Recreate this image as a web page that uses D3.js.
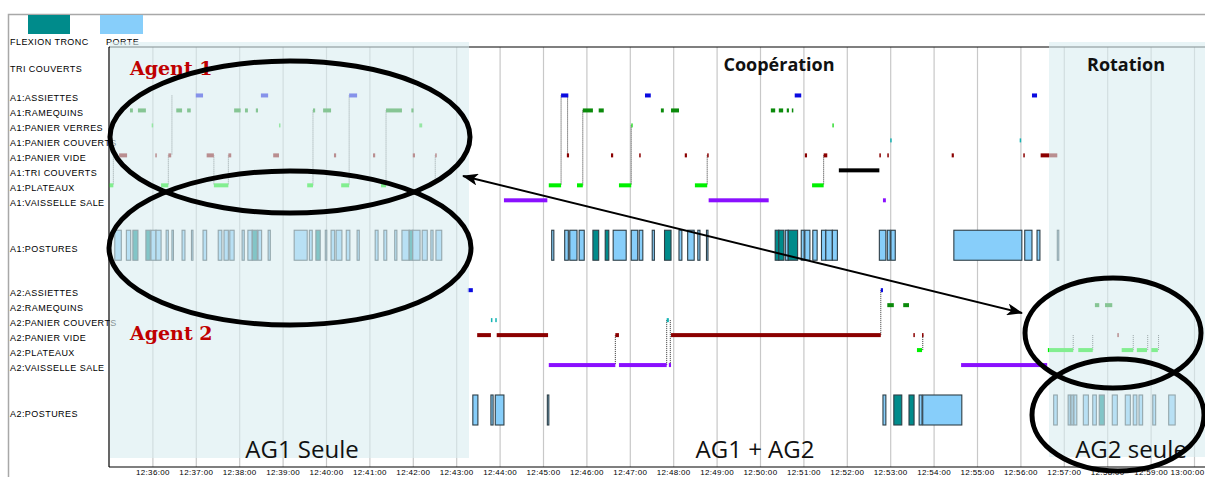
<!DOCTYPE html>
<html>
<head>
<meta charset="utf-8">
<script src="https://cdn.jsdelivr.net/npm/d3@7"></script>
<style>
  body { margin: 0; background: #fff; }
  svg { display: block; }
  .lbl { font-family: "Liberation Sans", Arial, sans-serif; font-size: 9px; letter-spacing: 0.45px; fill: #000; }
</style>
</head>
<body>
<div id="viz"></div>
<script>
// ---- data ----
const legendItems = ['FLEXION TRONC', 'PORTE'];
const rowLabels = [
  'TRI COUVERTS',
  'A1:ASSIETTES', 'A1:RAMEQUINS', 'A1:PANIER VERRES', 'A1:PANIER COUVERTS',
  'A1:PANIER VIDE', 'A1:TRI COUVERTS', 'A1:PLATEAUX', 'A1:VAISSELLE SALE',
  'A1:POSTURES',
  'A2:ASSIETTES', 'A2:RAMEQUINS', 'A2:PANIER COUVERTS', 'A2:PANIER VIDE',
  'A2:PLATEAUX', 'A2:VAISSELLE SALE',
  'A2:POSTURES'
];
const tickLabels = [
  '12:36:00', '12:37:00', '12:38:00', '12:39:00', '12:40:00', '12:41:00',
  '12:42:00', '12:43:00', '12:44:00', '12:45:00', '12:46:00', '12:47:00',
  '12:48:00', '12:49:00', '12:50:00', '12:51:00', '12:52:00', '12:53:00',
  '12:54:00', '12:55:00', '12:56:00', '12:57:00', '12:58:00', '12:59:00',
  '13:00:00'
];
const timeDomain = ['12:35:00', '13:00:00'];

// [task, start, end]
const a1Tasks = [
  ['ASSIETTES', '12:37:00', '12:37:10'], ['ASSIETTES', '12:38:30', '12:38:40'],
  ['ASSIETTES', '12:40:32', '12:40:43'], ['ASSIETTES', '12:45:25', '12:45:35'],
  ['ASSIETTES', '12:47:21', '12:47:29'], ['ASSIETTES', '12:50:48', '12:50:57'],
  ['ASSIETTES', '12:56:16', '12:56:23'],
  ['RAMEQUINS', '12:35:29', '12:35:33'], ['RAMEQUINS', '12:35:40', '12:35:51'],
  ['RAMEQUINS', '12:36:33', '12:36:41'], ['RAMEQUINS', '12:36:48', '12:36:53'],
  ['RAMEQUINS', '12:37:53', '12:38:02'], ['RAMEQUINS', '12:38:08', '12:38:12'],
  ['RAMEQUINS', '12:38:23', '12:38:26'], ['RAMEQUINS', '12:39:42', '12:39:45'],
  ['RAMEQUINS', '12:39:56', '12:40:07'], ['RAMEQUINS', '12:41:23', '12:41:45'],
  ['RAMEQUINS', '12:41:58', '12:42:01'], ['RAMEQUINS', '12:45:55', '12:46:09'],
  ['RAMEQUINS', '12:46:17', '12:46:24'], ['RAMEQUINS', '12:47:43', '12:47:47'],
  ['RAMEQUINS', '12:47:57', '12:48:08'], ['RAMEQUINS', '12:50:15', '12:50:21'],
  ['RAMEQUINS', '12:50:26', '12:50:32'], ['RAMEQUINS', '12:50:37', '12:50:40'],
  ['RAMEQUINS', '12:50:44', '12:50:46'],
  ['PANIER VERRES', '12:35:59', '12:36:01'], ['PANIER VERRES', '12:38:55', '12:38:57'],
  ['PANIER VERRES', '12:42:09', '12:42:13'], ['PANIER VERRES', '12:47:02', '12:47:04'],
  ['PANIER VERRES', '12:51:40', '12:51:42'],
  ['PANIER COUVERTS', '12:53:00', '12:53:02'], ['PANIER COUVERTS', '12:55:59', '12:56:01'],
  ['PANIER VIDE', '12:35:14', '12:35:25'], ['PANIER VIDE', '12:36:04', '12:36:06'],
  ['PANIER VIDE', '12:36:22', '12:36:26'], ['PANIER VIDE', '12:37:15', '12:37:25'],
  ['PANIER VIDE', '12:37:45', '12:37:49'], ['PANIER VIDE', '12:38:47', '12:38:55'],
  ['PANIER VIDE', '12:40:11', '12:40:14'], ['PANIER VIDE', '12:41:05', '12:41:08'],
  ['PANIER VIDE', '12:42:00', '12:42:03'], ['PANIER VIDE', '12:42:31', '12:42:33'],
  ['PANIER VIDE', '12:45:33', '12:45:36'], ['PANIER VIDE', '12:46:34', '12:46:37'],
  ['PANIER VIDE', '12:47:13', '12:47:15'], ['PANIER VIDE', '12:48:16', '12:48:19'],
  ['PANIER VIDE', '12:48:47', '12:48:49'], ['PANIER VIDE', '12:51:02', '12:51:05'],
  ['PANIER VIDE', '12:51:28', '12:51:33'], ['PANIER VIDE', '12:52:45', '12:52:47'],
  ['PANIER VIDE', '12:52:56', '12:52:58'], ['PANIER VIDE', '12:54:25', '12:54:28'],
  ['PANIER VIDE', '12:56:04', '12:56:06'], ['PANIER VIDE', '12:56:28', '12:56:51'],
  ['TRI COUVERTS', '12:51:49', '12:52:45'],
  ['PLATEAUX', '12:35:01', '12:35:06'], ['PLATEAUX', '12:36:12', '12:36:22'],
  ['PLATEAUX', '12:37:25', '12:37:45'], ['PLATEAUX', '12:39:34', '12:39:42'],
  ['PLATEAUX', '12:40:21', '12:40:32'], ['PLATEAUX', '12:41:16', '12:41:23'],
  ['PLATEAUX', '12:45:08', '12:45:25'], ['PLATEAUX', '12:45:47', '12:45:55'],
  ['PLATEAUX', '12:46:45', '12:47:02'], ['PLATEAUX', '12:48:30', '12:48:47'],
  ['PLATEAUX', '12:51:12', '12:51:28'],
  ['VAISSELLE SALE', '12:44:06', '12:45:06'], ['VAISSELLE SALE', '12:48:49', '12:50:12'],
  ['VAISSELLE SALE', '12:52:50', '12:52:54']
];

const a2Tasks = [
  ['ASSIETTES', '12:43:16', '12:43:23'], ['ASSIETTES', '12:52:47', '12:52:50'],
  ['RAMEQUINS', '12:52:56', '12:53:05'], ['RAMEQUINS', '12:53:18', '12:53:26'],
  ['RAMEQUINS', '12:57:43', '12:57:49'], ['RAMEQUINS', '12:57:57', '12:58:07'],
  ['PANIER COUVERTS', '12:43:48', '12:43:49'], ['PANIER COUVERTS', '12:43:54', '12:43:55'],
  ['PANIER COUVERTS', '12:47:51', '12:47:54'],
  ['PANIER VIDE', '12:43:29', '12:43:48'], ['PANIER VIDE', '12:43:56', '12:45:07'],
  ['PANIER VIDE', '12:46:40', '12:46:45'], ['PANIER VIDE', '12:47:57', '12:52:47'],
  ['PANIER VIDE', '12:53:32', '12:53:34'], ['PANIER VIDE', '12:53:44', '12:53:45'],
  ['PANIER VIDE', '12:58:14', '12:58:15'],
  ['PLATEAUX', '12:53:37', '12:53:44'], ['PLATEAUX', '12:56:38', '12:57:13'],
  ['PLATEAUX', '12:57:20', '12:57:40'], ['PLATEAUX', '12:58:20', '12:58:36'],
  ['PLATEAUX', '12:58:41', '12:58:55'], ['PLATEAUX', '12:59:01', '12:59:10'],
  ['VAISSELLE SALE', '12:45:08', '12:46:40'], ['VAISSELLE SALE', '12:46:45', '12:47:51'],
  ['VAISSELLE SALE', '12:47:54', '12:47:57'], ['VAISSELLE SALE', '12:54:38', '12:56:37']
];

// [time, from task, to task] dotted transitions
const a1Links = [
  ['12:35:06', 'PANIER VIDE', 'PLATEAUX'], ['12:36:22', 'PANIER VIDE', 'PLATEAUX'],
  ['12:36:27', 'ASSIETTES', 'PANIER VIDE'], ['12:37:25', 'PANIER VIDE', 'PLATEAUX'],
  ['12:37:45', 'PANIER VIDE', 'PLATEAUX'], ['12:39:42', 'RAMEQUINS', 'PLATEAUX'],
  ['12:40:32', 'ASSIETTES', 'PLATEAUX'], ['12:41:23', 'RAMEQUINS', 'PLATEAUX'],
  ['12:42:31', 'PANIER VIDE', 'PLATEAUX'], ['12:45:25', 'ASSIETTES', 'PLATEAUX'],
  ['12:45:34', 'ASSIETTES', 'PANIER VIDE'], ['12:45:55', 'RAMEQUINS', 'PLATEAUX'],
  ['12:47:02', 'PANIER VERRES', 'PLATEAUX'], ['12:48:47', 'PANIER VIDE', 'PLATEAUX'],
  ['12:51:28', 'PANIER VIDE', 'PLATEAUX']
];
const a2Links = [
  ['12:46:40', 'PANIER VIDE', 'VAISSELLE SALE'], ['12:47:51', 'PANIER COUVERTS', 'VAISSELLE SALE'],
  ['12:47:56', 'PANIER COUVERTS', 'VAISSELLE SALE'], ['12:52:47', 'ASSIETTES', 'PANIER VIDE'],
  ['12:53:45', 'PANIER VIDE', 'PLATEAUX'], ['12:57:13', 'PANIER VIDE', 'PLATEAUX'],
  ['12:57:40', 'PANIER VIDE', 'PLATEAUX'], ['12:58:36', 'PANIER VIDE', 'PLATEAUX'],
  ['12:58:56', 'PANIER VIDE', 'PLATEAUX'], ['12:59:11', 'PANIER VIDE', 'PLATEAUX']
];

// [start, end, posture]  P = PORTE, F = FLEXION TRONC
const a1Postures = [
  ['12:35:08', '12:35:17', 'P'], ['12:35:24', '12:35:30', 'P'], ['12:35:33', '12:35:40', 'F'],
  ['12:35:51', '12:35:57', 'F'], ['12:35:58', '12:36:05', 'P'], ['12:36:05', '12:36:12', 'P'],
  ['12:36:19', '12:36:22', 'P'], ['12:36:27', '12:36:28', 'P'], ['12:36:41', '12:36:45', 'P'],
  ['12:36:54', '12:36:55', 'P'], ['12:37:10', '12:37:15', 'P'], ['12:37:31', '12:37:36', 'P'],
  ['12:37:39', '12:37:45', 'P'], ['12:37:47', '12:37:53', 'P'], ['12:38:04', '12:38:07', 'P'],
  ['12:38:12', '12:38:18', 'P'], ['12:38:18', '12:38:25', 'F'], ['12:38:26', '12:38:31', 'P'],
  ['12:38:40', '12:38:43', 'P'], ['12:39:16', '12:39:34', 'P'], ['12:39:37', '12:39:41', 'P'],
  ['12:39:46', '12:39:52', 'F'], ['12:39:59', '12:40:01', 'P'], ['12:40:07', '12:40:12', 'P'],
  ['12:40:14', '12:40:22', 'P'], ['12:40:28', '12:40:33', 'P'], ['12:40:43', '12:40:46', 'P'],
  ['12:41:08', '12:41:12', 'P'], ['12:41:20', '12:41:24', 'P'], ['12:41:35', '12:41:38', 'P'],
  ['12:41:45', '12:41:55', 'P'], ['12:41:55', '12:42:00', 'F'], ['12:42:00', '12:42:10', 'P'],
  ['12:42:13', '12:42:20', 'P'], ['12:42:25', '12:42:28', 'P'], ['12:42:32', '12:42:40', 'P'],
  ['12:45:12', '12:45:15', 'P'], ['12:45:30', '12:45:35', 'P'], ['12:45:37', '12:45:47', 'P'],
  ['12:45:50', '12:45:57', 'P'], ['12:46:09', '12:46:17', 'F'], ['12:46:26', '12:46:31', 'F'],
  ['12:46:37', '12:46:55', 'P'], ['12:47:02', '12:47:11', 'P'], ['12:47:13', '12:47:18', 'P'],
  ['12:47:31', '12:47:34', 'P'], ['12:47:48', '12:47:57', 'F'], ['12:48:08', '12:48:12', 'P'],
  ['12:48:20', '12:48:29', 'P'], ['12:48:34', '12:48:37', 'P'], ['12:48:46', '12:48:48', 'P'],
  ['12:50:21', '12:50:26', 'F'], ['12:50:26', '12:50:33', 'F'], ['12:50:35', '12:50:39', 'P'],
  ['12:50:39', '12:50:52', 'F'], ['12:50:57', '12:51:01', 'P'], ['12:51:02', '12:51:09', 'P'],
  ['12:51:13', '12:51:19', 'P'], ['12:51:25', '12:51:31', 'P'], ['12:51:31', '12:51:40', 'P'],
  ['12:51:40', '12:51:47', 'P'], ['12:52:45', '12:52:54', 'P'], ['12:52:56', '12:53:00', 'P'],
  ['12:53:01', '12:53:07', 'P'], ['12:54:28', '12:56:02', 'P'], ['12:56:06', '12:56:16', 'P'],
  ['12:56:23', '12:56:27', 'P'], ['12:56:51', '12:56:52', 'P']
];
const a2Postures = [
  ['12:43:23', '12:43:30', 'P'], ['12:43:48', '12:43:51', 'P'], ['12:43:54', '12:44:06', 'P'],
  ['12:45:06', '12:45:08', 'P'], ['12:52:50', '12:52:54', 'P'], ['12:53:05', '12:53:16', 'F'],
  ['12:53:26', '12:53:33', 'F'], ['12:53:40', '12:53:44', 'P'], ['12:53:45', '12:54:39', 'P'],
  ['12:56:46', '12:56:51', 'P'], ['12:57:06', '12:57:09', 'P'], ['12:57:10', '12:57:13', 'P'],
  ['12:57:14', '12:57:18', 'P'], ['12:57:27', '12:57:34', 'P'], ['12:57:40', '12:57:45', 'P'],
  ['12:57:49', '12:57:56', 'F'], ['12:58:07', '12:58:14', 'P'], ['12:58:25', '12:58:32', 'P'],
  ['12:58:36', '12:58:41', 'P'], ['12:58:44', '12:58:49', 'P'], ['12:59:03', '12:59:07', 'P'],
  ['12:59:25', '12:59:34', 'P']
];

// ---- drawing ----
const W = 1205, H = 477;
const parse = d3.timeParse('%H:%M:%S');
const plot = { left: 109, right: 1194, top: 47, bottom: 467 };

const taskColors = {
  'ASSIETTES': '#0a0ae0', 'RAMEQUINS': '#0b8a0b', 'PANIER VERRES': '#33dd33',
  'PANIER COUVERTS': '#14b4b4', 'PANIER VIDE': '#8b0000', 'TRI COUVERTS': '#000000',
  'PLATEAUX': '#00f000', 'VAISSELLE SALE': '#8a10ff'
};
const postureColors = { F: '#008b8b', P: '#87cefa' };

// vertical slot of every row label (irregular gaps between groups)
const rowSlots = [-2, 0, 1, 2, 3, 4, 5, 6, 7, 10, 13, 14, 15, 16, 17, 18, 21];
const y = d3.scaleLinear().domain([-2, 21]).range([65.5, 410]);
const slotOf = name => rowSlots[rowLabels.indexOf(name)];

const x = d3.scaleTime()
  .domain(timeDomain.map(parse))
  .range([plot.left, plot.right]);

const svg = d3.select('#viz').append('svg')
  .attr('width', W).attr('height', H);

// outer frame
svg.append('path')
  .attr('d', `M8.5,${H} V14.5 H${W}`)
  .attr('fill', 'none').attr('stroke', '#a8a8a8').attr('stroke-width', 1.5);

// legend
const legend = svg.append('g');
legend.append('rect').attr('x', 28).attr('y', 15).attr('width', 42).attr('height', 19)
  .attr('fill', postureColors.F);
legend.append('rect').attr('x', 100).attr('y', 15).attr('width', 43).attr('height', 19)
  .attr('fill', postureColors.P);
legend.selectAll('text').data(legendItems).join('text')
  .attr('class', 'lbl')
  .attr('x', (d, i) => i === 0 ? 10 : 106)
  .attr('y', 44.5)
  .text(d => d);

// grid + bottom axis
const xAxis = svg.append('g')
  .attr('transform', `translate(0,${plot.bottom})`)
  .call(d3.axisBottom(x)
    .tickValues(tickLabels.map(parse))
    .tickFormat(d3.timeFormat('%H:%M:%S'))
    .tickSizeInner(-(plot.bottom - plot.top))
    .tickSizeOuter(0)
    .tickPadding(2));
xAxis.select('.domain').remove();
xAxis.selectAll('.tick line').attr('stroke', '#c8c8c8').attr('stroke-width', 1.2);
xAxis.selectAll('.tick text')
  .attr('class', 'lbl')
  .style('font-size', '8px')
  .style('letter-spacing', '0.35px');
// last label would run past the window edge: right-align it
xAxis.selectAll('.tick text').filter((d, i, n) => i === n.length - 1)
  .attr('text-anchor', 'end')
  .attr('x', W - 1 - x(parse(tickLabels[tickLabels.length - 1])));

// plot frame lines
svg.append('line').attr('x1', plot.left).attr('x2', W).attr('y1', plot.bottom).attr('y2', plot.bottom)
  .attr('stroke', '#000').attr('stroke-width', 1.2);
svg.append('line').attr('x1', plot.left).attr('x2', W).attr('y1', plot.top).attr('y2', plot.top)
  .attr('stroke', '#000').attr('stroke-width', 1.2);
svg.append('line').attr('x1', plot.left).attr('x2', plot.left).attr('y1', plot.top).attr('y2', plot.bottom)
  .attr('stroke', '#000').attr('stroke-width', 1.2);

// row labels
svg.append('g').selectAll('text').data(rowLabels).join('text')
  .attr('class', 'lbl')
  .attr('x', 10)
  .attr('y', (d, i) => y(rowSlots[i]) + (d.endsWith('POSTURES') ? 7 : 6))
  .text(d => d);

const barW = d => Math.max(1.5, x(parse(d[2])) - x(parse(d[1])));

function drawAgent(prefix, tasks, links, postures) {
  const g = svg.append('g');
  g.selectAll('line.link').data(links).join('line')
    .attr('class', 'link')
    .attr('x1', d => x(parse(d[0]))).attr('x2', d => x(parse(d[0])))
    .attr('y1', d => y(slotOf(prefix + d[1])))
    .attr('y2', d => y(slotOf(prefix + d[2])))
    .attr('stroke', '#333').attr('stroke-width', 1)
    .attr('stroke-dasharray', '1,1');

  g.selectAll('rect.task').data(tasks).join('rect')
    .attr('class', 'task')
    .attr('x', d => x(parse(d[1])))
    .attr('y', d => y(slotOf(prefix + d[0])) - 2)
    .attr('width', barW)
    .attr('height', 4)
    .attr('fill', d => taskColors[d[0]]);

  const py = y(slotOf(prefix + 'POSTURES'));
  g.selectAll('rect.post').data(postures).join('rect')
    .attr('class', 'post')
    .attr('x', d => x(parse(d[0])))
    .attr('y', py - 15)
    .attr('width', d => Math.max(1.5, x(parse(d[1])) - x(parse(d[0]))))
    .attr('height', 30)
    .attr('fill', d => postureColors[d[2]])
    .attr('stroke', '#2e3e46')
    .attr('stroke-width', 1.1);
}
drawAgent('A1:', a1Tasks, a1Links, a1Postures);
drawAgent('A2:', a2Tasks, a2Links, a2Postures);

// shaded phases (semi-transparent, over the marks)
svg.append('rect').attr('x', 110).attr('y', 42).attr('width', 359).attr('height', 416)
  .attr('fill', 'rgb(216,236,240)').attr('opacity', 0.6);
svg.append('rect').attr('x', 1049).attr('y', 42).attr('width', W - 1049).attr('height', 415)
  .attr('fill', 'rgb(216,236,240)').attr('opacity', 0.6);

// annotations
const ann = svg.append('g');
ann.append('text').attr('x', 130).attr('y', 75)
  .attr('font-family', '"DejaVu Serif", serif').attr('font-weight', 'bold')
  .attr('font-size', 19).attr('fill', '#c00000').text('Agent 1');
ann.append('text').attr('x', 130).attr('y', 340)
  .attr('font-family', '"DejaVu Serif", serif').attr('font-weight', 'bold')
  .attr('font-size', 19).attr('fill', '#c00000').text('Agent 2');
ann.append('text').attr('x', 779).attr('y', 71).attr('text-anchor', 'middle')
  .attr('font-family', '"Open Sans", sans-serif').attr('font-weight', 'bold')
  .attr('font-size', 18).attr('fill', '#111').text('Coopération');
ann.append('text').attr('x', 1126).attr('y', 71).attr('text-anchor', 'middle')
  .attr('font-family', '"Open Sans", sans-serif').attr('font-weight', 'bold')
  .attr('font-size', 18).attr('fill', '#111').text('Rotation');
[['AG1 Seule', 302], ['AG1 + AG2', 755], ['AG2 seule', 1131]].forEach(([t, cx]) => {
  ann.append('text').attr('x', cx).attr('y', 458).attr('text-anchor', 'middle')
    .attr('font-family', '"Open Sans", sans-serif')
    .attr('font-size', 24).attr('fill', '#111').text(t);
});

[[290, 137, 180, 76], [290, 248, 181, 77], [1113, 333, 88, 55], [1118, 415, 86, 56]]
  .forEach(([cx, cy, rx, ry]) => {
    ann.append('ellipse')
      .attr('cx', cx).attr('cy', cy).attr('rx', rx).attr('ry', ry)
      .attr('fill', 'none').attr('stroke', '#000').attr('stroke-width', 5);
  });

svg.append('defs').append('marker')
  .attr('id', 'arrow')
  .attr('markerUnits', 'userSpaceOnUse')
  .attr('viewBox', '0 0 16 12')
  .attr('markerWidth', 16).attr('markerHeight', 12)
  .attr('refX', 15).attr('refY', 6)
  .attr('orient', 'auto-start-reverse')
  .append('path')
  .attr('d', 'M0,0 L16,6 L0,12 L4,6 z')
  .attr('fill', '#000');
ann.append('line')
  .attr('x1', 463).attr('y1', 176).attr('x2', 1022).attr('y2', 313)
  .attr('stroke', '#000').attr('stroke-width', 2)
  .attr('marker-start', 'url(#arrow)').attr('marker-end', 'url(#arrow)');
</script>
</body>
</html>
